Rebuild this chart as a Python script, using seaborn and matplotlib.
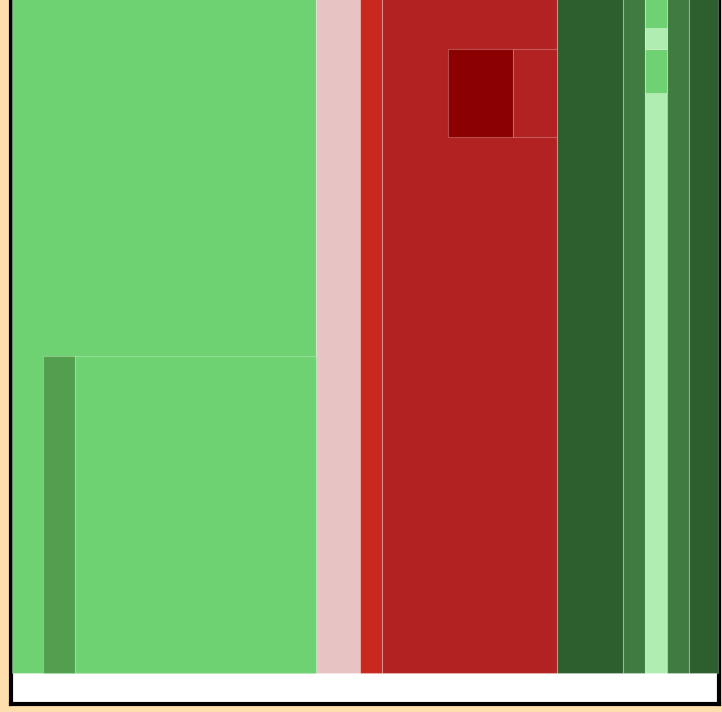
import numpy as np
import pandas as pd
import matplotlib
matplotlib.use("Agg")
import matplotlib.pyplot as plt
import seaborn as sns

# column blocks, left to right (width in units of the plot area, full height)
col_widths = [304, 44, 22, 175, 66, 22, 22, 22, 29]
col_colors = ["#6fd272", "#e8c3c3", "#c9281f", "#b22222", "#2d5e2e",
              "#407c42", "#b0edb0", "#407c42", "#2d5e2e"]
col_height = 720

# blocks laid over the columns
sub_left = [31, 63, 436, 501, 633, 633, 633]
sub_width = [32, 241, 65, 44, 22, 22, 22]
sub_bottom = [0, 0, 536, 536, 580, 624, 645]
sub_height = [317, 317, 88, 88, 44, 21, 75]
sub_colors = ["#52a04f", "#6fd272", "#8b0000", "#b22222",
              "#6fd272", "#b0edb0", "#6fd272"]

sns.set_style("white")

W, H = 722, 712
fig = plt.figure(figsize=(W / 100, H / 100), dpi=100, facecolor="#ffdead")
# axes runs off the top of the figure
ax = fig.add_axes([11 / W, (H - 704) / H, 708 / W, 724 / H])
ax.set_facecolor("white")

df = pd.DataFrame({"width": col_widths, "color": col_colors})
df["left"] = np.concatenate([[0], np.cumsum(df["width"])[:-1]])

edge = (1, 1, 1, 0.25)
ax.bar(df["left"], col_height, width=df["width"], align="edge",
       color=df["color"], edgecolor=edge, linewidth=0.8, zorder=3)
ax.bar(sub_left, sub_height, width=sub_width, bottom=sub_bottom, align="edge",
       color=sub_colors, edgecolor=edge, linewidth=0.8, zorder=3)

ax.set_xlim(-1, 707)
ax.set_ylim(-31, 693)
ax.set_xticks([])
ax.set_yticks([])
for side in ["left", "bottom", "right"]:
    ax.spines[side].set_visible(True)
    ax.spines[side].set_color("black")
    ax.spines[side].set_linewidth(3)
ax.spines["top"].set_visible(False)

fig.savefig("out.png", dpi=100, facecolor=fig.get_facecolor())
